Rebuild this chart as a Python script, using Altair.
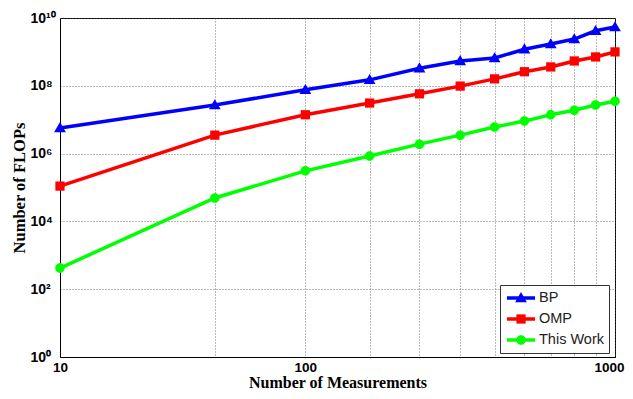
import altair as alt
import pandas as pd

# ---- data ----
x_steps = [1, 2, 3, 4, 5, 6, 7, 8, 9, 10, 11, 12]
x_tick_values = [1, 3, 12]
x_tick_labels = ["10", "100", "1000"]

series_names = ["BP", "OMP", "This Work"]
bp = [5.7e6, 2.7e7, 7.6e7, 1.5e8, 3.3e8, 5.4e8, 6.6e8, 1.2e9, 1.7e9, 2.4e9, 4.2e9, 5.4e9]
omp = [1.1e5, 3.5e6, 1.4e7, 3.1e7, 5.8e7, 9.8e7, 1.6e8, 2.6e8, 3.6e8, 5.4e8, 7.1e8, 1.0e9]
this_work = [4.2e2, 4.9e4, 3.1e5, 8.5e5, 1.9e6, 3.5e6, 6.1e6, 9.1e6, 1.4e7, 1.9e7, 2.7e7, 3.5e7]

y_tick_values = [1, 1e2, 1e4, 1e6, 1e8, 1e10]
y_tick_labels = ["10\u2070", "10\u00b2", "10\u2074", "10\u2076", "10\u2078", "10\u00b9\u2070"]

colors = ["#0000FF", "#FF0000", "#00FF00"]
shapes = [
    "M0,-0.42L0.42,0.3L-0.42,0.3Z",
    "M-0.33,-0.33H0.33V0.33H-0.33Z",
    "M0.34,0A0.34,0.34 0 1,1 -0.34,0A0.34,0.34 0 1,1 0.34,0Z",
]

rows = []
for name, vals in zip(series_names, [bp, omp, this_work]):
    for x, v in zip(x_steps, vals):
        rows.append({"x": x, "flops": v, "series": name})
df = pd.DataFrame(rows)

x_expr = " : ".join(
    f"datum.value == {v} ? '{l}'" for v, l in zip(x_tick_values, x_tick_labels)
) + " : ''"
y_expr = " : ".join(
    f"datum.value == {v:g} ? '{l}'" for v, l in zip(y_tick_values, y_tick_labels)
) + " : ''"

x_enc = alt.X(
    "x:Q",
    scale=alt.Scale(type="log", domain=[1, 12], nice=False),
    axis=alt.Axis(
        values=x_steps, labelExpr=x_expr, title="Number of Measurements",
        ticks=False, tickSize=0, labelPadding=3, labelFontSize=13.5,
        labelOffset={"condition": {"test": f"datum.value == {x_steps[-1]}", "value": -6}, "value": 0},
        titleY=30, titleBaseline="alphabetic", titleFontSize=16,
        labelFlush=False, labelOverlap=False,
    ),
)
y_enc = alt.Y(
    "flops:Q",
    scale=alt.Scale(type="log", domain=[1, 1e10], nice=False),
    axis=alt.Axis(
        values=y_tick_values, labelExpr=y_expr, title="Number of FLOPs",
        ticks=False, tickSize=0, labelAlign="left", labelPadding=30,
        titlePadding=3, labelFlush=False, labelOverlap=False,
    ),
)

legend_common = dict(
    orient="none", legendX=440, legendY=267, title=None,
    symbolSize=784, symbolStrokeWidth=3.5, clipHeight=16, rowPadding=5,
    labelFontSize=14.5, labelFont="Liberation Sans", labelOffset=2,
    padding=5, symbolOffset=0,
)

lines = alt.Chart(df).mark_line(strokeWidth=3.5).encode(
    x=x_enc, y=y_enc,
    color=alt.Color(
        "series:N",
        scale=alt.Scale(domain=series_names, range=colors),
        legend=alt.Legend(
            fillColor="white", strokeColor="#333333", labelColor="#222222",
            **legend_common,
        ),
    ),
)

points = alt.Chart(df).mark_point(filled=True, size=784, opacity=1).encode(
    x=x_enc, y=y_enc,
    color=alt.Color(
        "series:N",
        scale=alt.Scale(domain=series_names, range=colors),
        legend=alt.Legend(labelOpacity=0, **legend_common),
    ),
    shape=alt.Shape(
        "series:N",
        scale=alt.Scale(domain=series_names, range=shapes),
        legend=alt.Legend(labelOpacity=0, **legend_common),
    ),
)

chart = (
    alt.layer(lines, points)
    .resolve_scale(color="independent", shape="independent")
    .resolve_legend(color="independent", shape="independent")
    .properties(
        width=555, height=339,
        autosize=alt.AutoSizeParams(type="none"),
        padding={"left": 52, "top": 10, "right": 10, "bottom": 34},
        background="white",
    )
    .configure_view(stroke="black", strokeWidth=1)
    .configure_axis(
        domainColor="black", domainWidth=1,
        grid=True, gridColor="#555555", gridDash=[1, 2], gridWidth=1, gridOpacity=0.8,
        labelFont="Liberation Sans", labelFontSize=14, labelFontWeight="bold",
        labelColor="black",
        titleFont="Liberation Serif", titleFontSize=16.5, titleFontWeight="bold",
        titleColor="black",
    )
)

chart.save("out.html", embed_options={"renderer": "svg", "actions": False})
